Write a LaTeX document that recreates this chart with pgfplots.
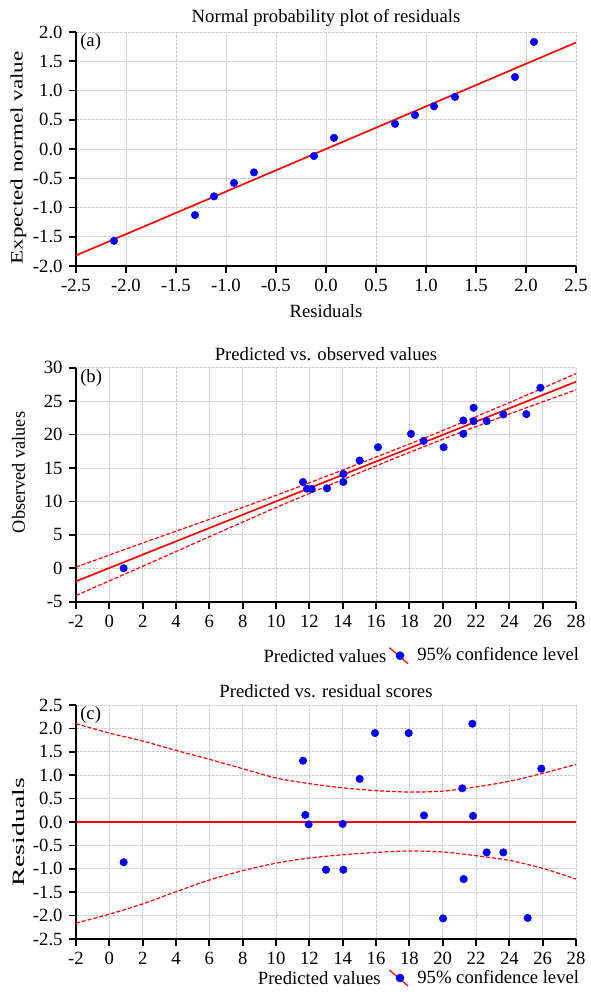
\documentclass[border=0pt]{standalone}
\usepackage{fontspec}
\setmainfont{Liberation Serif}
\usepackage{graphicx}
\usepackage{pgfplots}
\pgfplotsset{compat=1.18}
\newcommand\fs{\fontsize{14}{16}\selectfont}
\newcommand\fsy{\fontsize{13}{15}\selectfont}
\pgfplotsset{
  panel/.style={
    scale only axis, width=375pt, height=175.5pt, anchor=south west,
    axis lines=left, axis line style={-, line width=1.3pt, black},
    tick align=outside, major tick length=5.25pt,
    tick style={black, line width=1.3pt},
    grid=major, grid style={gray!40, line width=0.5pt, dash pattern=on 2pt off 1pt},
    every tick label/.append style={font=\fs},
    /pgf/number format/assume math mode=true,
    title style={at={(axis description cs:0.5,1.058)}, anchor=center, yshift=-6pt, font=\fs},
    label style={font=\fs},
    clip=false,
  },
  dec1/.style={/pgf/number format/.cd, fixed, fixed zerofill, precision=1},
  dots/.style={only marks, mark=*, mark size=2.8pt, color=blue, mark options={draw=blue, fill=blue}},
  fitline/.style={red, line width=1.25pt},
  band/.style={red, line width=0.9pt, dash pattern=on 3pt off 1.5pt, smooth},
  cimark/.style={legend image code/.code={
      \draw[red, line width=0.9pt, solid] (-2pt,6pt) -- (12pt,-6pt);
      \fill[blue] (6pt,0pt) circle (3pt);
      \path[draw=none, fill=none] (12pt,0pt) -- (17pt,0pt);}},
}
\begin{document}
\fs
\begin{tikzpicture}
\useasboundingbox (0,0) rectangle (442.5pt,752.25pt);

% ---------------- (a)
\begin{axis}[panel, at={(57pt,552.75pt)},
  xmin=-2.5, xmax=2.5, ymin=-2, ymax=2,
  xtick={-2.5,-2,-1.5,-1,-0.5,0,0.5,1,1.5,2,2.5},
  ytick={-2,-1.5,-1,-0.5,0,0.5,1,1.5,2},
  xticklabel style={dec1}, yticklabel style={dec1},
  title={Normal probability plot of residuals},
  xlabel={Residuals},
  xlabel style={at={(axis description cs:0.5,-0.1923)}, anchor=center},
  ylabel={\resizebox{160pt}{\height}{\fsy Expected normel value}},
  ylabel style={at={(axis description cs:-0.115,0.4615)}, anchor=center},
]
\addplot[fitline] coordinates {(-2.5,-1.82) (2.5,1.82)};
\addplot[dots] coordinates {
(-2.12,-1.57) (-1.31,-1.13) (-1.12,-0.81) (-0.92,-0.58) (-0.72,-0.40)
(-0.12,-0.12) (0.08,0.19) (0.69,0.43) (0.89,0.58) (1.08,0.73)
(1.29,0.89) (1.89,1.23) (2.08,1.83)};
\node[anchor=north west, inner sep=0pt, font=\fs] at ([xshift=3pt,yshift=-1pt]axis description cs:0,1) {(a)};
\end{axis}

% ---------------- (b)
\begin{axis}[panel, at={(57pt,301pt)},
  xmin=-2, xmax=28, ymin=-5, ymax=30,
  xtick={-2,0,...,28}, ytick={-5,0,...,30},
  title={Predicted vs. observed values},
  xlabel={Predicted values},
  xlabel style={at={(axis description cs:0.6214,-0.2308)}, anchor=east, inner sep=0pt},
  ylabel={\resizebox{91pt}{\height}{Observed values}},
  ylabel style={at={(axis description cs:-0.115,0.552)}, anchor=center},
  legend style={at={(axis description cs:1.012,-0.2308)}, anchor=east, draw=none, fill=none, font=\fs, inner sep=0pt},
]
\addplot[fitline, forget plot] coordinates {(-2,-1.95) (28,27.9)};
\addplot[band, forget plot] coordinates {
(-2,0.17) (0,1.97) (2,3.77) (4,5.54) (6,7.31) (8,9.10) (10,10.90) (12,12.78)
(14,14.69) (16,16.62) (18,18.58) (20,20.59) (22,22.67) (24,24.77) (26,26.93) (28,29.12)};
\addplot[band, forget plot] coordinates {
(-2,-4.07) (0,-1.89) (2,0.29) (4,2.50) (6,4.71) (8,6.90) (10,9.08) (12,11.18)
(14,13.25) (16,15.30) (18,17.32) (20,19.29) (22,21.19) (24,23.07) (26,24.89) (28,26.68)};
\addplot[dots, forget plot] coordinates {
(0.86,0.0) (11.62,12.9) (11.86,11.9) (12.14,11.85) (13.06,11.95)
(14.04,14.1) (14.04,12.9) (15.02,16.1) (16.12,18.1) (18.10,20.1)
(18.86,19.05) (20.06,18.1) (21.24,22.1) (21.24,20.1) (21.86,24.0)
(21.86,22.0) (22.64,22.0) (23.64,23.0) (25.02,23.05) (25.86,27.0)};
\addlegendimage{cimark}
\addlegendentry{95\% confidence level}
\node[anchor=north west, inner sep=0pt, font=\fs] at ([xshift=3pt,yshift=-1pt]axis description cs:0,1) {(b)};
\end{axis}

% ---------------- (c)
\begin{axis}[panel, at={(57pt,48pt)},
  xmin=-2, xmax=28, ymin=-2.5, ymax=2.5,
  xtick={-2,0,...,28}, ytick={-2.5,-2,-1.5,-1,-0.5,0,0.5,1,1.5,2,2.5},
  yticklabel style={dec1},
  title={Predicted vs. residual scores},
  xlabel={Predicted values},
  xlabel style={at={(axis description cs:0.61,-0.1667)}, anchor=east, inner sep=0pt},
  ylabel={\resizebox{81pt}{\height}{\fsy Residuals}},
  ylabel style={at={(axis description cs:-0.115,0.457)}, anchor=center},
  legend style={at={(axis description cs:1.012,-0.1667)}, anchor=east, draw=none, fill=none, font=\fs, inner sep=0pt},
]
\addplot[fitline, forget plot] coordinates {(-2,0) (28,0)};
\addplot[band, forget plot] coordinates {
(-2,2.10) (0,1.90) (2,1.73) (4,1.53) (6,1.34) (8,1.14) (10,0.94) (12,0.82)
(14,0.73) (16,0.67) (18,0.64) (20,0.66) (22,0.75) (24,0.87) (26,1.04) (28,1.23)};
\addplot[band, forget plot] coordinates {
(-2,-2.16) (0,-1.97) (2,-1.75) (4,-1.49) (6,-1.24) (8,-1.04) (10,-0.88) (12,-0.77)
(14,-0.70) (16,-0.65) (18,-0.62) (20,-0.64) (22,-0.72) (24,-0.82) (26,-0.99) (28,-1.22)};
\addplot[dots, forget plot] coordinates {
(0.86,-0.86) (11.62,1.31) (11.76,0.15) (11.96,-0.05) (13.0,-1.02)
(14.0,-0.04) (14.04,-1.02) (15.02,0.92) (15.94,1.90) (17.96,1.90)
(18.88,0.14) (20.02,-2.06) (21.18,0.72) (21.26,-1.22) (21.78,2.10)
(21.82,0.13) (22.64,-0.65) (23.64,-0.65) (25.10,-2.05) (25.92,1.14)};
\addlegendimage{cimark}
\addlegendentry{95\% confidence level}
\node[anchor=north west, inner sep=0pt, font=\fs] at ([xshift=3pt,yshift=-1pt]axis description cs:0,1) {(c)};
\end{axis}
\end{tikzpicture}
\end{document}
